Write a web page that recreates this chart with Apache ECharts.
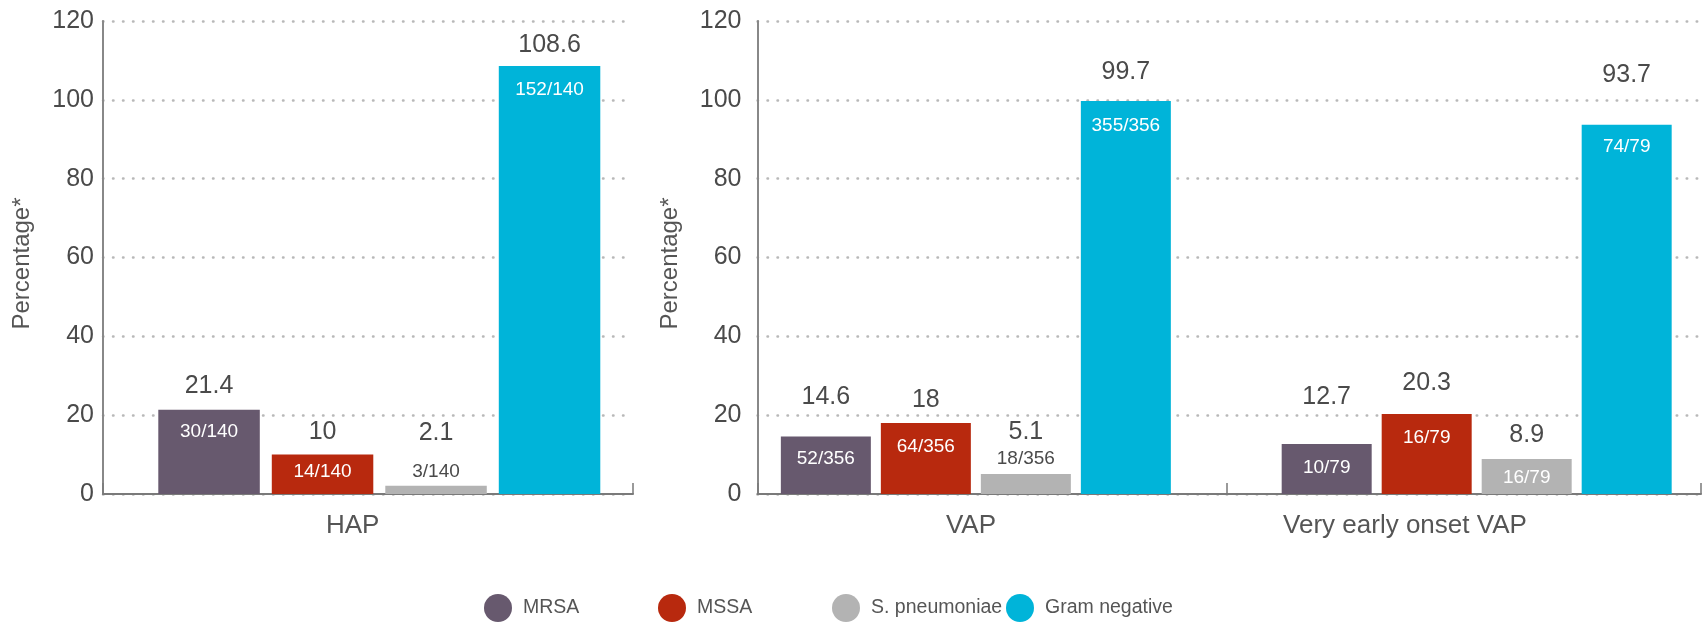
<!DOCTYPE html>
<html>
<head>
<meta charset="utf-8">
<script src="https://cdn.jsdelivr.net/npm/echarts@6/dist/echarts.min.js"></script>
<style>
  html, body { margin: 0; padding: 0; background: #ffffff; }
  #chart { width: 1703px; height: 623px; }
</style>
</head>
<body>
<div id="chart"></div>
<script>
// ---- data ----
const organisms = ['MRSA', 'MSSA', 'S. pneumoniae', 'Gram negative'];
const groups = ['HAP', 'VAP', 'Very early onset VAP'];

const hapValues = [21.4, 10, 2.1, 108.6];
const hapCounts = ['30/140', '14/140', '3/140', '152/140'];

const vapValues = [14.6, 18, 5.1, 99.7];
const vapCounts = ['52/356', '64/356', '18/356', '355/356'];

const earlyVapValues = [12.7, 20.3, 8.9, 93.7];
const earlyVapCounts = ['10/79', '16/79', '16/79', '74/79'];

const yMin = 0;
const yMax = 120;
const yStep = 20;

// ---- styling ----
const FONT = "'Liberation Sans', Arial, Helvetica, sans-serif";
const TEXT = '#4a4a4a';
const colors = ['#67596e', '#b8290e', '#b3b3b3', '#00b4d9'];

// how far each percentage sits above its bar top, and how far the count sits below it (px)
const valueLift = [
  [23.6, 22.1, 52.7, 21.1],
  [39.3, 23.3, 41.6, 28.7],
  [46.8, 30.5, 24.1, 49.4]
];
const countDrop = [
  [22.1, 17.1, -13.7, 23.5],
  [21.9, 23.7, -15.2, 24.4],
  [23.8, 23.4, 18.8, 22.3]
];
const COUNT_LINE = 24;

// legend entries sit on an even pitch
const LEGEND_LEFT = 484;
const LEGEND_PITCH = 174;

// one panel per group: HAP on its own axes, VAP and very early onset VAP side by side
const panels = [
  { values: hapValues, counts: hapCounts, left: 103, right: 1070, barWidth: 101.5, barGap: '11.82%',
    spacer: ['start', 20.2], labelShift: -15.3, showY: true, yLabelMargin: 9, nameGap: 69 },
  { values: vapValues, counts: vapCounts, left: 757.5, right: 476.3, barWidth: 90, barGap: '11.11%',
    spacer: ['end', 22.5], labelShift: -21.1, showY: true, yLabelMargin: 16, nameGap: 75 },
  { values: earlyVapValues, counts: earlyVapCounts, left: 1226.7, right: 2, barWidth: 90, barGap: '11.11%',
    spacer: ['start', 23.1], labelShift: -58.9, showY: false }
];

const grids = [], xAxes = [], yAxes = [], series = [];

panels.forEach((p, g) => {
  grids.push({ left: p.left, right: p.right, top: 21, bottom: 129, outerBoundsMode: 'none' });

  const pad = p.labelShift < 0 ? [0, -2 * p.labelShift, 0, 0] : [0, 0, 0, 2 * p.labelShift];
  xAxes.push({
    type: 'category', gridIndex: g, data: [groups[g]], boundaryGap: true,
    axisLine: { show: true, lineStyle: { color: '#7a7a7a', width: 2 } },
    axisTick: { show: true, inside: true, length: 11, lineStyle: { color: '#7a7a7a', width: 1.5 } },
    axisLabel: { show: true, fontSize: 26, color: '#555555', fontFamily: FONT, margin: 19, padding: pad },
    splitLine: { show: false }
  });

  yAxes.push({
    type: 'value', gridIndex: g, min: yMin, max: yMax, interval: yStep,
    name: p.showY ? 'Percentage*' : '',
    nameLocation: 'middle', nameRotate: 90, nameGap: p.nameGap || 0,
    nameTextStyle: { fontSize: 24, color: '#555555', fontFamily: FONT, padding: [0, 12, 0, 0] },
    axisLine: { show: p.showY, lineStyle: { color: '#888888', width: 2 } },
    axisTick: { show: false },
    axisLabel: { show: p.showY, fontSize: 25, color: TEXT, fontFamily: FONT, margin: p.yLabelMargin || 8 },
    splitLine: { show: true, lineStyle: { color: '#b8b8b8', width: 2.5, type: [0.5, 9.5], cap: 'round' } }
  });

  const spacerSeries = {
    type: 'bar', name: 'spacer', xAxisIndex: g, yAxisIndex: g, data: ['-'],
    barWidth: p.spacer[1], barGap: p.barGap, silent: true,
    itemStyle: { color: 'rgba(0,0,0,0)' }, label: { show: false }
  };

  if (p.spacer[0] === 'start') series.push(spacerSeries);

  organisms.forEach((name, s) => {
    const lift = valueLift[g][s];
    const drop = countDrop[g][s];
    const valueLine = 2 * (drop + lift - COUNT_LINE / 2);
    series.push({
      type: 'bar', name: name, xAxisIndex: g, yAxisIndex: g,
      barWidth: p.barWidth, barGap: p.barGap,
      itemStyle: { color: colors[s] },
      emphasis: { disabled: true },
      label: {
        show: true, position: 'insideTop', distance: 0,
        formatter: (d) => '{v|' + d.value + '}\n{f|' + p.counts[s] + '}'
      },
      data: [{
        value: p.values[s],
        label: {
          offset: [0, -lift - valueLine / 2],
          rich: {
            v: { fontSize: 25, lineHeight: valueLine, color: TEXT, fontFamily: FONT, verticalAlign: 'middle', align: 'center' },
            f: { fontSize: 19, lineHeight: COUNT_LINE, color: drop < 0 ? TEXT : '#ffffff', fontFamily: FONT, verticalAlign: 'middle', align: 'center' }
          }
        }
      }]
    });
  });

  if (p.spacer[0] === 'end') series.push(spacerSeries);
});

// one legend block per organism so the swatches keep a fixed spacing
const legends = organisms.map((name, i) => ({
  data: [name], left: LEGEND_LEFT + LEGEND_PITCH * i, top: 594, padding: 0,
  itemWidth: 40, itemHeight: 28, icon: 'circle', selectedMode: false,
  textStyle: { fontSize: 19.5, color: '#555555', fontFamily: FONT }
}));

const chart = echarts.init(document.getElementById('chart'), null, { renderer: 'canvas' });
chart.setOption({
  animation: false,
  backgroundColor: '#ffffff',
  grid: grids,
  xAxis: xAxes,
  yAxis: yAxes,
  legend: legends,
  tooltip: { show: false },
  series: series
});
</script>
</body>
</html>
